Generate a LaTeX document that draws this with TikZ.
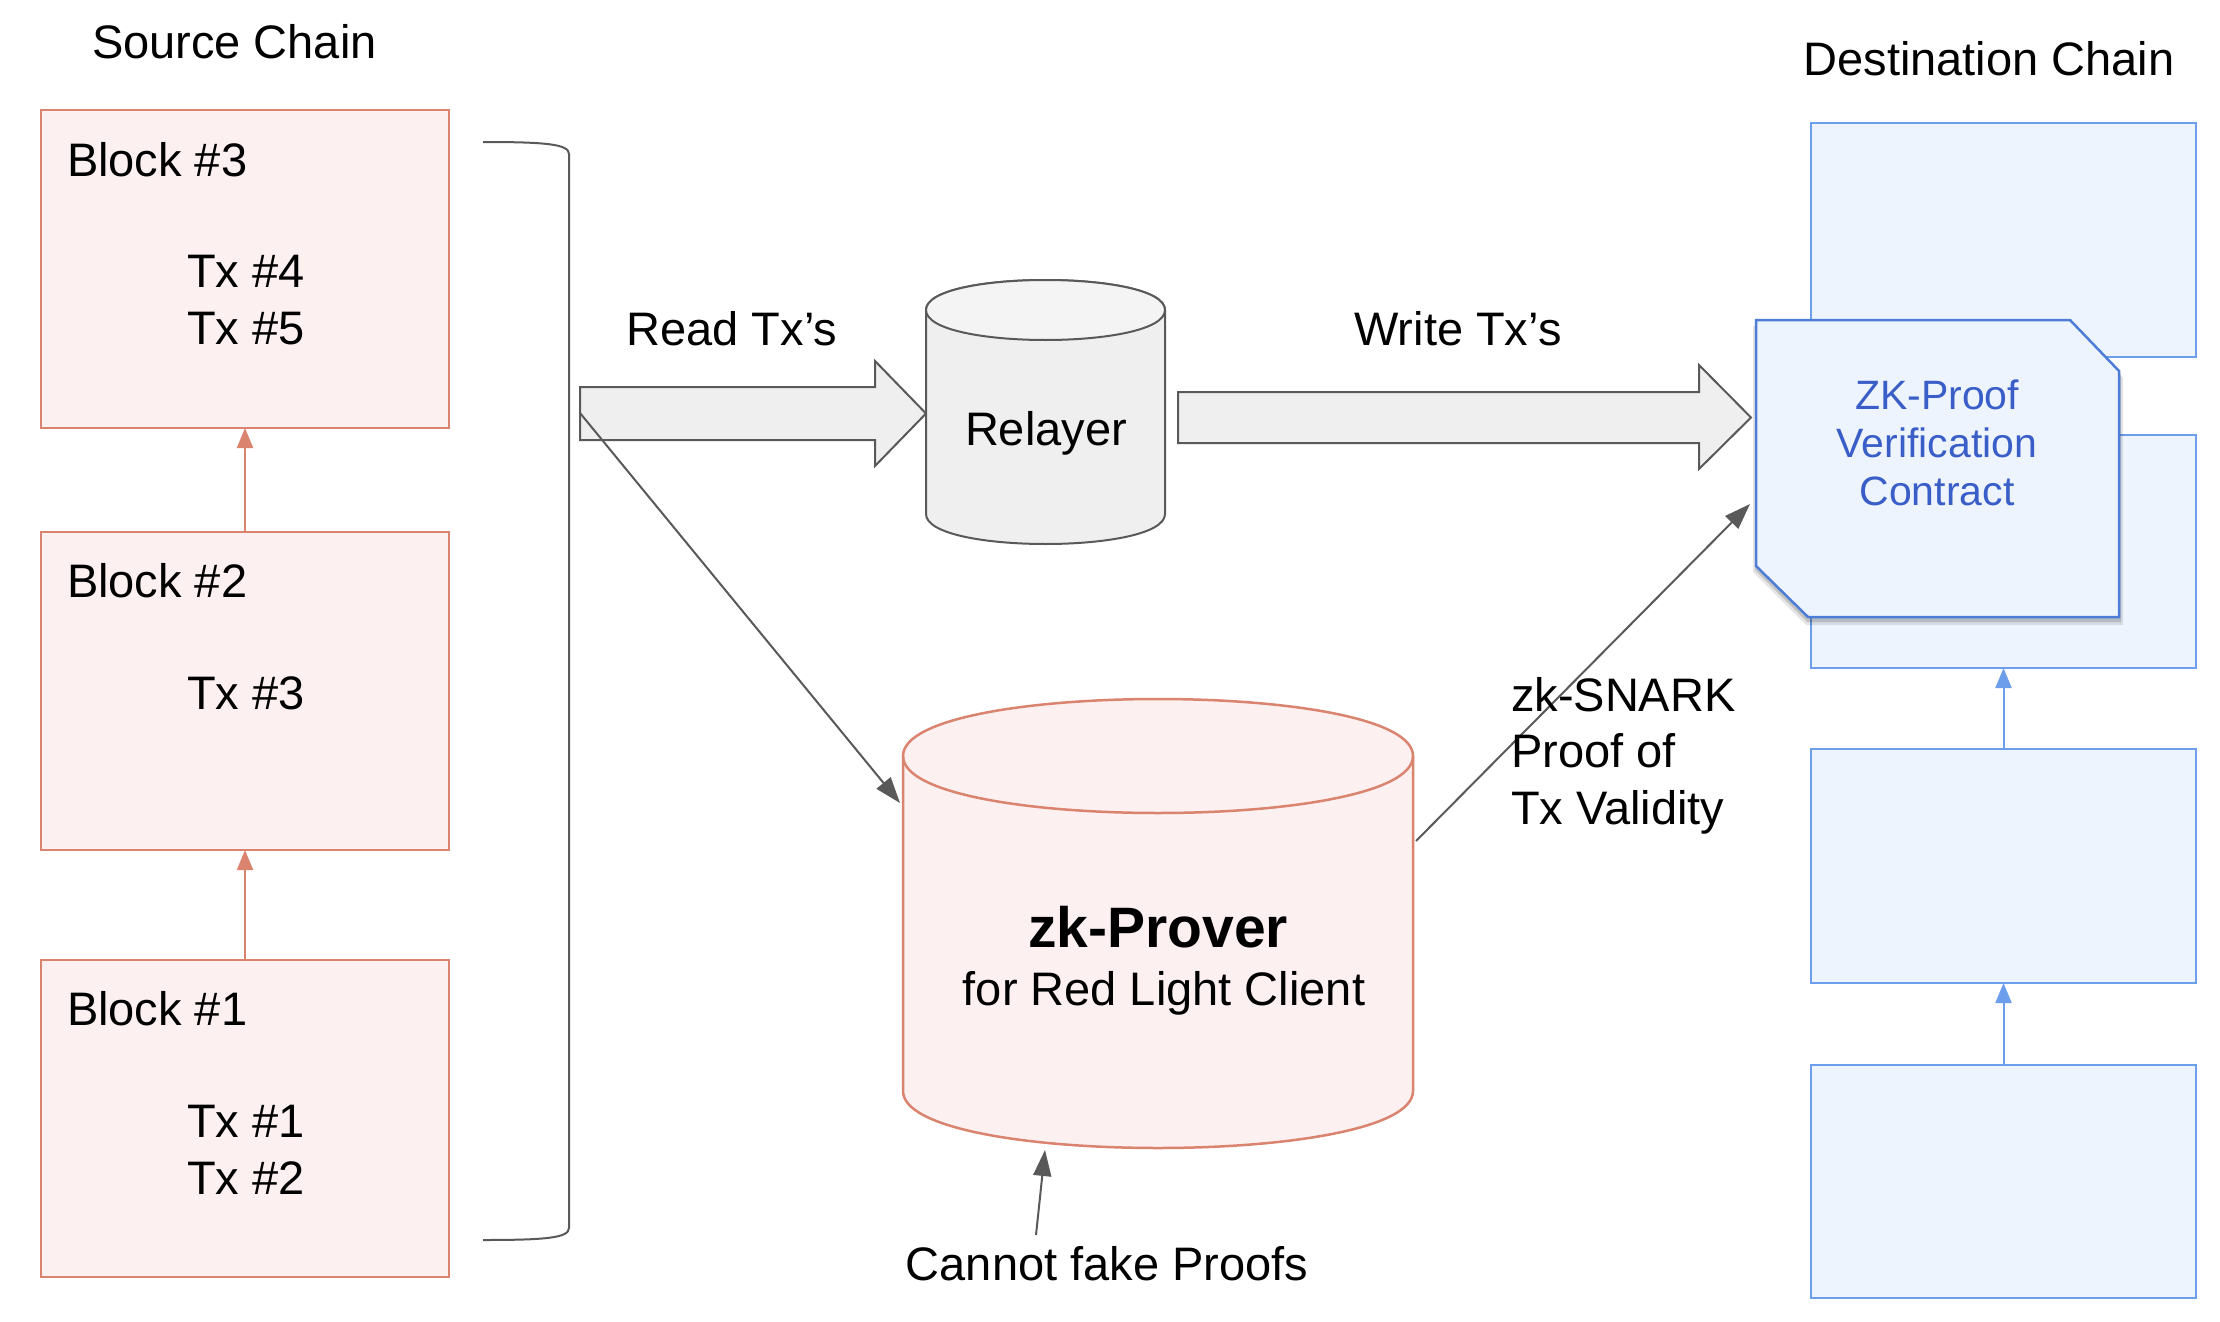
\documentclass[tikz,border=0pt]{standalone}
\usepackage{fontspec}
\setmainfont{Liberation Sans}
\usetikzlibrary{arrows.meta,calc}
\definecolor{srcline}{HTML}{DA8470}
\definecolor{srcfill}{HTML}{FCF0F0}
\definecolor{dstline}{HTML}{6D9EEB}
\definecolor{dstfill}{HTML}{EEF4FD}
\definecolor{ctrline}{HTML}{4D7DD6}
\definecolor{ctrtext}{HTML}{3A5EC8}
\definecolor{grayln}{HTML}{595959}
\definecolor{grayfill}{HTML}{EFEFEF}
\definecolor{graytop}{HTML}{F4F4F4}
\begin{document}
\begin{tikzpicture}[x=1pt,y=-1pt,
  every node/.style={inner sep=0pt,outer sep=0pt},
  txt/.style={font=\fontsize{47}{56}\selectfont,text=black},
  srcblock/.style={draw=srcline,fill=srcfill,line width=2.5pt,minimum width=408pt,minimum height=318pt},
  dstblock/.style={draw=dstline,fill=dstfill,line width=2.2pt,minimum width=385pt,minimum height=234pt},
  srcarrow/.style={draw=srcline,line width=2pt,-{Triangle[length=20pt,width=16pt]}},
  dstarrow/.style={draw=dstline,line width=2pt,-{Triangle[length=20pt,width=16pt]}},
  grayarrow/.style={draw=grayln,line width=2pt,-{Triangle[length=26pt,width=18pt]}},
  blockarrow/.style={draw=grayln,fill=grayfill,line width=2pt,line join=miter},
  hidden/.style={draw=none,fill=none}
]
\useasboundingbox (0,0) rectangle (2220,1322);
\fill[white] (0,0) rectangle (2220,1322);

% ---------- Source chain ----------
\node[txt,anchor=base west] (srctitle) at (92,59) {Source Chain};
\node[srcblock] (b3) at (245,269) {};
\node[srcblock] (b2) at (245,691) {};
\node[srcblock,minimum height=317pt] (b1) at (245,1118.5) {};
\node[txt,anchor=base west] (b3t) at (67,176) {Block \#3};
\node[txt,anchor=base west] (tx4) at (187,287) {Tx \#4};
\node[txt,anchor=base west] (tx5) at (187,344) {Tx \#5};
\node[txt,anchor=base west] (b2t) at (67,597) {Block \#2};
\node[txt,anchor=base west] (tx3) at (187,709) {Tx \#3};
\node[txt,anchor=base west] (b1t) at (67,1025) {Block \#1};
\node[txt,anchor=base west] (tx1) at (187,1137) {Tx \#1};
\node[txt,anchor=base west] (tx2) at (187,1194) {Tx \#2};
\draw[srcarrow] (b2.north) -- (b3.south);
\draw[srcarrow] (b1.north) -- (b2.south);

% bracket
\draw[grayln,line width=2pt] (483,142) .. controls (545,142) and (569,144) .. (569,154)
  -- (569,1228) .. controls (569,1238) and (545,1240) .. (483,1240);

% ---------- Read arrow ----------
\draw[blockarrow] (580,387) -- (875,387) -- (875,361) -- (926,413.5) -- (875,466) -- (875,440) -- (580,440) -- cycle;
\node[txt,anchor=base] (readlbl) at (732,345) {Read Tx’s};

% ---------- Relayer cylinder ----------
\draw[grayln,fill=grayfill,line width=2pt] (926,310) -- (926,514)
  .. controls (926,554) and (1165,554) .. (1165,514) -- (1165,310)
  .. controls (1165,270) and (926,270) .. (926,310) -- cycle;
\draw[grayln,fill=graytop,line width=2pt] (926,310) .. controls (926,350) and (1165,350) .. (1165,310)
  .. controls (1165,270) and (926,270) .. (926,310) -- cycle;
\node[hidden,minimum width=239pt,minimum height=264pt] (relayerbox) at (1045.5,412) {};
\node[txt,anchor=base] (relayer) at (1046,445) {Relayer};

% ---------- Write arrow ----------
\draw[blockarrow] (1178,392) -- (1699,392) -- (1699,365) -- (1751,417.5) -- (1699,469) -- (1699,443) -- (1178,443) -- cycle;
\node[txt,anchor=base] (writelbl) at (1458,345) {Write Tx’s};

% ---------- Destination chain ----------
\node[txt,anchor=base] (dsttitle) at (1989,75) {Destination Chain};
\node[dstblock] (d1) at (2003.5,240) {};
\node[dstblock,minimum height=233pt] (d2) at (2003.5,551.5) {};
\node[dstblock] (d3) at (2003.5,866) {};
\node[dstblock,minimum height=233pt] (d4) at (2003.5,1181.5) {};
\draw[dstarrow] (d3.north) -- (d2.south);
\draw[dstarrow] (d4.north) -- (d3.south);

% contract shape with shadow
\fill[black,opacity=0.10] (1753,326) -- (2070,326) -- (2123,378) -- (2123,625) -- (1806,625) -- (1753,572) -- cycle;
\fill[black,opacity=0.15] (1755,324) -- (2070,324) -- (2121,375) -- (2121,622) -- (1807,622) -- (1755,570) -- cycle;
\draw[ctrline,fill=dstfill,line width=2.5pt,line join=miter] (1756,320) -- (2070,320) -- (2119,371) -- (2119,617) -- (1808,617) -- (1756,566) -- cycle;
\node[hidden,minimum width=363pt,minimum height=297pt] (contract) at (1937.5,468.5) {};
\node[anchor=base,font=\fontsize{41}{48}\selectfont,text=ctrtext] (c1) at (1937,409) {ZK-Proof};
\node[anchor=base,font=\fontsize{41}{48}\selectfont,text=ctrtext] (c2) at (1937,457) {Verification};
\node[anchor=base,font=\fontsize{41}{48}\selectfont,text=ctrtext] (c3) at (1937,505) {Contract};

% ---------- zk-Prover cylinder ----------
\draw[srcline,fill=srcfill,line width=2.5pt] (903,756) -- (903,1091)
  .. controls (903,1167) and (1413,1167) .. (1413,1091) -- (1413,756)
  .. controls (1413,680) and (903,680) .. (903,756) -- cycle;
\draw[srcline,line width=2.5pt] (903,756) .. controls (903,832) and (1413,832) .. (1413,756);
\node[hidden,minimum width=510pt,minimum height=449pt] (prover) at (1158,923.5) {};
\node[anchor=base,font=\fontsize{57}{64}\selectfont\bfseries,text=black] (provert) at (1158,947) {zk-Prover};
\node[txt,anchor=base] (provers) at (1164,1005) {for Red Light Client};

% ---------- Connectors ----------
\coordinate (readtail) at (580,413);
\coordinate (proverin) at (900,803);
\coordinate (proverout) at (1416,841);
\coordinate (contractin) at (1750,504);
\coordinate (fakeend) at (1045,1150);
\draw[grayarrow] (readtail) -- (proverin);
\draw[grayarrow] (proverout) -- (contractin);

\node[txt,anchor=base west] (snark1) at (1511,711) {zk-SNARK};
\node[txt,anchor=base west] (snark2) at (1511,767) {Proof of};
\node[txt,anchor=base west] (snark3) at (1511,824) {Tx Validity};

\node[txt,anchor=base] (fake) at (1107,1280) {Cannot fake Proofs};
\coordinate (fakestart) at (1036,1235);
\draw[grayarrow] (fakestart) -- (fakeend);
\end{tikzpicture}
\end{document}
